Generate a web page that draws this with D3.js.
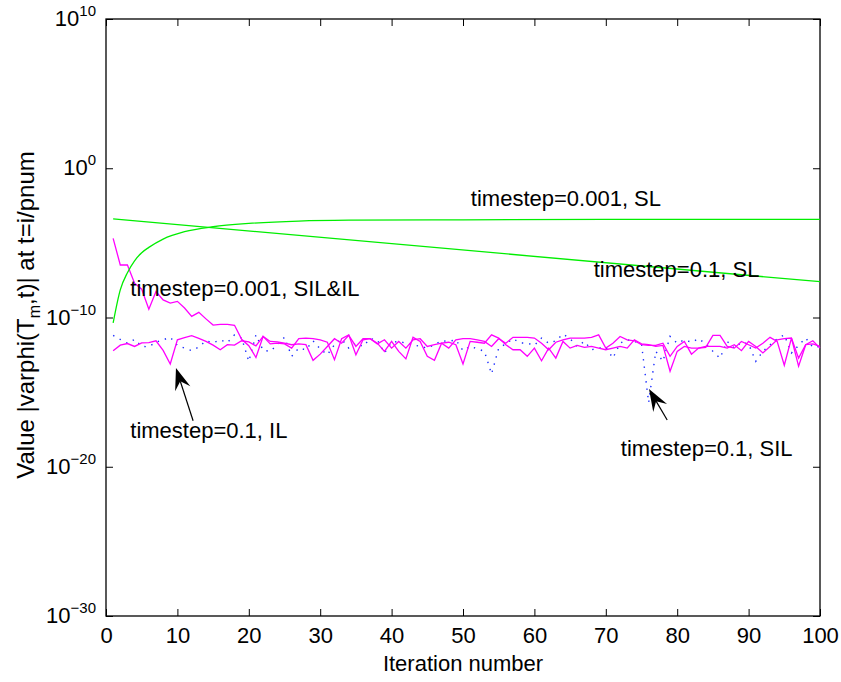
<!DOCTYPE html>
<html>
<head>
<meta charset="utf-8">
<script src="https://cdn.jsdelivr.net/npm/d3@7/dist/d3.min.js"></script>
<style>
  html, body { margin: 0; padding: 0; background: #fff; }
  svg { display: block; font-family: "Liberation Sans", Arial, Helvetica, sans-serif; }
</style>
</head>
<body>
<svg id="chart" width="841" height="682"></svg>
<script>
// ---- axis ticks ----
const xTickValues = [0, 10, 20, 30, 40, 50, 60, 70, 80, 90, 100];
const yTickValues = [1e10, 1, 1e-10, 1e-20, 1e-30];
const yTickExponents = ["10", "0", "\u221210", "\u221220", "\u221230"];

// ---- series: |varphi| per iteration (iteration = index + 1) ----
// timestep=0.001, SIL&IL
const silil001 = [
  2.0e-5, 3.3e-7, 3.3e-7, 2.0e-8, 7.9e-9, 3.6e-10, 5.5e-9, 1.5e-9, 9.1e-10, 1.2e-9,
  4.3e-10, 1.2e-10, 2.2e-10, 8.1e-11, 3.1e-11, 3.5e-11, 3.5e-11, 3.0e-11, 3.5e-12, 1.3e-12,
  2.1e-13, 5.4e-12, 1.7e-12, 1.9e-12, 1.7e-12, 8.9e-13, 3.8e-12, 4.2e-12, 3.8e-12, 3.2e-12,
  2.2e-12, 1.5e-13, 3.8e-12, 6.9e-12, 3.2e-13, 3.2e-12, 3.8e-12, 1.9e-12, 5.4e-13, 2.5e-12,
  5.4e-13, 1.7e-13, 4.7e-12, 2.5e-12, 2.5e-13, 1.35e-13, 1.9e-12, 2.2e-12, 1.5e-12, 7.6e-14,
  2.5e-12, 2.2e-12, 1.9e-12, 6.9e-12, 4.2e-12, 1.5e-12, 6.9e-13, 6.9e-13, 2.5e-13, 8.9e-13,
  1.26e-13, 8.9e-13, 1.9e-13, 2.5e-12, 8.9e-13, 1.35e-12, 1.0e-12, 1.15e-12, 8.9e-13, 6.9e-13,
  8.9e-13, 1.15e-12, 8.9e-13, 3.2e-12, 1.7e-12, 1.5e-12, 1.15e-12, 1.35e-12, 2.5e-14, 5.4e-13,
  1.15e-12, 8.9e-13, 8.9e-13, 1.0e-12, 6.3e-12, 6.3e-12, 1.15e-12, 8.9e-13, 2.5e-12, 1.5e-12,
  8.9e-13, 1.9e-12, 4.7e-12, 2.5e-12, 6.3e-14, 4.2e-12, 5.4e-14, 1.5e-12, 2.75e-12, 8.9e-13
];
// timestep=0.1, IL
const il01 = [
  6.0e-13, 1.4e-12, 1.8e-12, 1.15e-12, 2.0e-12, 2.1e-12, 2.75e-12, 6.3e-13, 7.6e-14, 3.2e-12,
  4.5e-12, 6.0e-12, 4.0e-12, 2.5e-12, 1.4e-12, 6.9e-13, 1.5e-12, 1.4e-12, 2.75e-12, 2.3e-12,
  1.26e-12, 5.4e-12, 2.5e-12, 2.3e-12, 1.9e-12, 1.5e-12, 1.7e-12, 1.5e-12, 1.35e-13, 3.5e-13,
  1.15e-12, 3.8e-12, 1.9e-12, 6.3e-12, 1.15e-12, 3.8e-12, 3.8e-12, 1.7e-12, 3.2e-12, 8.9e-13,
  2.5e-12, 8.9e-13, 3.2e-12, 3.8e-12, 1.15e-12, 1.5e-12, 1.9e-12, 8.9e-13, 3.2e-12, 3.8e-12,
  3.8e-12, 3.2e-12, 2.5e-12, 1.15e-12, 3.8e-12, 1.9e-12, 4.7e-12, 4.7e-12, 4.7e-12, 4.2e-12,
  1.9e-12, 6.9e-13, 2.2e-12, 3.2e-12, 4.2e-12, 4.2e-12, 4.2e-12, 4.7e-12, 6.9e-12, 8.9e-13,
  1.9e-12, 5.4e-12, 3.2e-12, 2.75e-12, 1.5e-12, 1.35e-12, 1.35e-12, 1.9e-12, 2.5e-13, 1.15e-12,
  2.5e-12, 3.5e-13, 8.9e-13, 1.15e-12, 1.15e-12, 1.15e-12, 8.9e-13, 1.5e-12, 6.0e-13, 2.5e-12,
  1.15e-12, 4.2e-13, 1.15e-12, 3.2e-12, 3.8e-12, 4.2e-12, 1.9e-13, 1.5e-12, 1.7e-12, 1.15e-12
];
// timestep=0.1, SIL
const sil01 = [
  6.3e-12, 3.4e-12, 1.9e-12, 3.4e-12, 1.15e-12, 1.1e-12, 2.2e-12, 3.2e-12, 4.7e-12, 1.35e-12,
  8.9e-13, 6.0e-13, 1.05e-12, 2.75e-12, 2.0e-12, 3.2e-12, 2.1e-12, 6.9e-12, 4.2e-12, 1.15e-13,
  6.9e-12, 6.3e-13, 5.4e-13, 1.5e-12, 4.7e-12, 2.5e-13, 8.9e-13, 6.9e-13, 2.75e-12, 7.9e-13,
  3.2e-13, 1.5e-12, 3.6e-12, 8.9e-13, 1.9e-12, 1.15e-12, 3.8e-12, 3.2e-12, 4.2e-13, 2.2e-12,
  2.5e-12, 1.9e-12, 1.5e-12, 1.15e-12, 8.9e-13, 1.5e-12, 2.75e-12, 2.5e-12, 3.2e-12, 6.0e-13,
  1.15e-12, 8.1e-13, 5.4e-13, 1.66e-14, 8.9e-13, 1.7e-12, 3.8e-12, 2.0e-12, 1.9e-12, 1.35e-12,
  4.2e-12, 1.9e-12, 2.75e-12, 7.8e-12, 3.8e-12, 1.15e-12, 2.5e-12, 6.9e-13, 8.9e-13, 1.0e-12,
  1.9e-13, 1.9e-12, 3.2e-12, 2.5e-12, 1.7e-12, 2.0e-16, 5.4e-13, 1.15e-13, 5.4e-12, 1.9e-12,
  3.2e-12, 2.2e-12, 3.8e-12, 1.7e-12, 5.4e-13, 1.9e-13, 2.5e-12, 8.9e-13, 2.2e-12, 1.7e-12,
  1.15e-13, 5.4e-13, 1.5e-12, 3.8e-12, 6.9e-12, 4.2e-13, 1.35e-12, 4.2e-12, 1.0e-12, 1.15e-12
];
// timestep=0.001, SL (sampled iterations)
const sl001Iter = [1, 2, 3, 4, 5, 6, 8, 11, 15, 20, 27, 34, 50, 70, 100];
const sl001 = [4.3e-11, 7.1e-9, 1.0e-7, 6.3e-7, 2.2e-6, 5.0e-6, 1.8e-5, 5.6e-5, 1.2e-4, 2.0e-4, 2.9e-4, 3.3e-4, 3.5e-4, 3.7e-4, 3.8e-4];
// timestep=0.1, SL (end points of the exponential decay)
const sl01Iter = [1, 100];
const sl01 = [4.0e-4, 2.5e-8];

// ---- annotations (data coordinates) ----
const labels = [
  { text: "timestep=0.001, SL",     x: 51.1, v: 3.0e-3 },
  { text: "timestep=0.1, SL",       x: 68.3, v: 5.1e-8 },
  { text: "timestep=0.001, SIL&IL", x: 3.4,  v: 2.8e-9 },
  { text: "timestep=0.1, IL",       x: 3.4,  v: 8.5e-19 },
  { text: "timestep=0.1, SIL",      x: 72.1, v: 5.2e-20 }
];
const arrows = [
  { x0: 12.2, v0: 1.2e-17,  x1: 9.8,  v1: 4.2e-14 },
  { x0: 78.6, v0: 1.35e-17, x1: 76.05, v1: 1.6e-15 }
];

(function draw() {
  // ---- layout ----
  const mLeft = 106, mRight = 820, mTop = 19, mBottom = 616;
  const fontSize = 22, supSize = 15;
  const svg = d3.select("#chart");

  const x = d3.scaleLinear().domain([0, 100]).range([mLeft, mRight]);
  const y = d3.scaleLog().domain([1e-30, 1e10]).range([mBottom, mTop]);

  // frame
  svg.append("rect")
    .attr("x", mLeft).attr("y", mTop)
    .attr("width", mRight - mLeft).attr("height", mBottom - mTop)
    .attr("fill", "none").attr("stroke", "#000").attr("stroke-width", 1.3);

  const tickLen = 7;
  function styleAxis(g) {
    g.select(".domain").remove();
    g.attr("font-family", null).attr("font-size", null);
    g.selectAll(".tick line").attr("stroke", "#000").attr("stroke-width", 1);
  }

  // bottom axis with labels
  const gx = svg.append("g")
    .attr("transform", `translate(0,${mBottom})`)
    .call(d3.axisBottom(x).tickValues(xTickValues).tickSizeInner(-tickLen).tickSizeOuter(0).tickPadding(11).tickFormat(d3.format("d")));
  styleAxis(gx);
  gx.selectAll(".tick text").attr("font-size", fontSize).attr("fill", "#000");

  // top axis (ticks only)
  const gxt = svg.append("g")
    .attr("transform", `translate(0,${mTop})`)
    .call(d3.axisTop(x).tickValues(xTickValues).tickSizeInner(-tickLen).tickSizeOuter(0).tickFormat(""));
  styleAxis(gxt);

  // left axis with power-of-ten labels
  const gy = svg.append("g")
    .attr("transform", `translate(${mLeft},0)`)
    .call(d3.axisLeft(y).tickValues(yTickValues).tickSizeInner(-tickLen).tickSizeOuter(0).tickPadding(10).tickFormat(""));
  styleAxis(gy);
  gy.selectAll(".tick text").each(function(d, i) {
    const t = d3.select(this).attr("fill", "#000").attr("dy", "0.41em");
    t.append("tspan").attr("font-size", fontSize).text("10");
    t.append("tspan").attr("font-size", supSize).attr("dy", -10).text(yTickExponents[i]);
  });

  // right axis (ticks only)
  const gyr = svg.append("g")
    .attr("transform", `translate(${mRight},0)`)
    .call(d3.axisRight(y).tickValues(yTickValues).tickSizeInner(-tickLen).tickSizeOuter(0).tickFormat(""));
  styleAxis(gyr);

  // axis titles
  svg.append("text")
    .attr("x", 463).attr("y", 671)
    .attr("text-anchor", "middle").attr("font-size", fontSize)
    .text("Iteration number");

  const yTitle = svg.append("text")
    .attr("transform", `translate(34,315) rotate(-90)`)
    .attr("text-anchor", "middle").attr("font-size", 24);
  yTitle.append("tspan").text("Value |varphi(T");
  yTitle.append("tspan").attr("font-size", 16).attr("dy", 6).text("m");
  yTitle.append("tspan").attr("dy", -6).text(",t)| at t=i/pnum");

  // ---- series ----
  const plot = svg.append("g");
  const byIndex = d3.line().x((d, i) => x(i + 1)).y(d => y(d));

  plot.append("path").datum(sil01)
    .attr("d", byIndex)
    .attr("fill", "none").attr("stroke", "#1a2cff").attr("stroke-width", 1.4)
    .attr("stroke-dasharray", "1.4,6").attr("stroke-linecap", "butt");

  plot.append("path").datum(il01)
    .attr("d", byIndex)
    .attr("fill", "none").attr("stroke", "#ff00ff").attr("stroke-width", 1.3);

  plot.append("path").datum(silil001)
    .attr("d", byIndex)
    .attr("fill", "none").attr("stroke", "#ff00ff").attr("stroke-width", 1.3);

  const byIter = (iters) => d3.line().x((d, i) => x(iters[i])).y(d => y(d)).curve(d3.curveMonotoneX);

  plot.append("path").datum(sl001)
    .attr("d", byIter(sl001Iter))
    .attr("fill", "none").attr("stroke", "#00ee00").attr("stroke-width", 1.3);

  plot.append("path").datum(sl01)
    .attr("d", byIter(sl01Iter))
    .attr("fill", "none").attr("stroke", "#00ee00").attr("stroke-width", 1.3);

  // ---- annotations ----
  svg.append("g").selectAll("text").data(labels).join("text")
    .attr("x", d => x(d.x)).attr("y", d => y(d.v))
    .attr("font-size", fontSize).attr("fill", "#000")
    .text(d => d.text);

  const ag = svg.append("g");
  arrows.forEach(a => {
    const x0 = x(a.x0), y0 = y(a.v0), x1 = x(a.x1), y1 = y(a.v1);
    const dx = x1 - x0, dy = y1 - y0, len = Math.hypot(dx, dy);
    const ux = dx / len, uy = dy / len, px = -uy, py = ux;
    const headL = 22, headW = 8, notch = 14;
    const bx = x1 - ux * headL, by = y1 - uy * headL;
    const nx = x1 - ux * notch, ny = y1 - uy * notch;
    ag.append("line")
      .attr("x1", x0).attr("y1", y0).attr("x2", nx).attr("y2", ny)
      .attr("stroke", "#000").attr("stroke-width", 1.2);
    ag.append("path")
      .attr("d", `M${x1},${y1}L${bx + px * headW},${by + py * headW}L${nx},${ny}L${bx - px * headW},${by - py * headW}Z`)
      .attr("fill", "#000");
  });
})();
</script>
</body>
</html>
